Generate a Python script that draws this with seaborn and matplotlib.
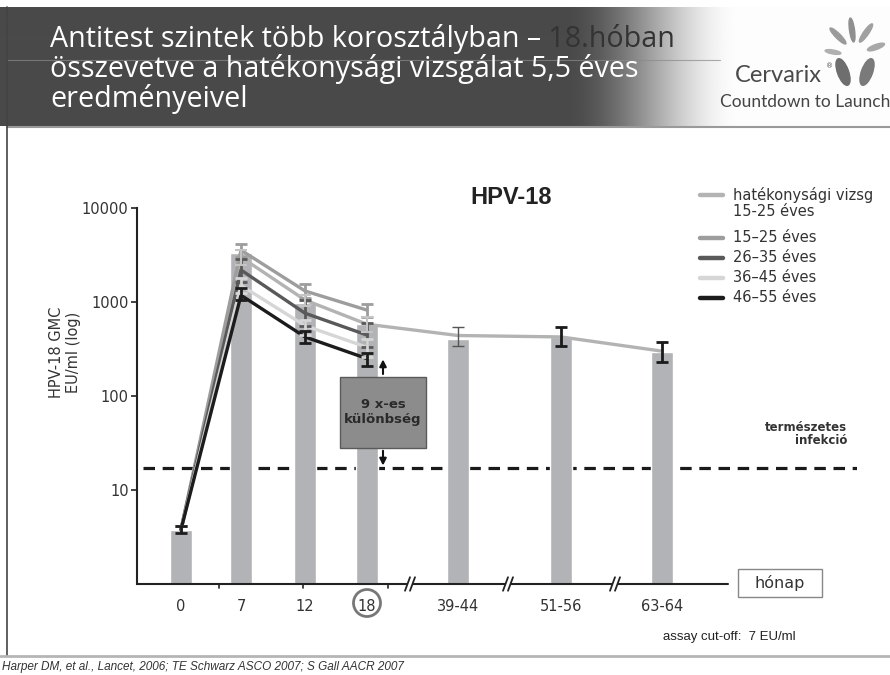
import numpy as np
import pandas as pd
import seaborn as sns
import matplotlib.pyplot as plt
from matplotlib.patches import Rectangle, Ellipse
from matplotlib.transforms import blended_transform_factory

# ---- adatok ----
honap = ["0", "7", "12", "18", "39-44", "51-56", "63-64"]
oszlop_gmc = [3.8, 3300, 980, 580, 405, 420, 295]          # hatékonysági vizsgálat oszlopai
hatek_gmc = [3.8, 3000, 1050, 580, 440, 425, 300]          # hatékonysági vizsg. vonal
hatek_also = [3.5, 2500, 900, 480, 340, 340, 230]
hatek_felso = [4.1, 3600, 1200, 700, 540, 540, 375]

kor_honap = ["0", "7", "12", "18"]
korcsoport = ["15–25 éves", "26–35 éves", "36–45 éves", "46–55 éves"]
gmc_15_25 = [3.8, 3560, 1310, 820]
gmc_26_35 = [3.8, 2190, 760, 445]
gmc_36_45 = [3.8, 1500, 560, 330]
gmc_46_55 = [3.8, 1180, 425, 250]
also_15_25 = [3.5, 3000, 1100, 700]
felso_15_25 = [4.1, 4100, 1550, 960]
also_26_35 = [3.5, 1650, 560, 330]
felso_26_35 = [4.1, 2900, 1050, 600]
also_36_45 = [3.5, 1250, 450, 260]
felso_36_45 = [4.1, 1800, 650, 400]
also_46_55 = [3.5, 1050, 370, 210]
felso_46_55 = [4.1, 1400, 490, 290]

termeszetes = 17      # természetes fertőzés szintje
y_tickek = [10, 100, 1000, 10000]

# ---- elrendezés ----
W, H = 890, 675
x_pos = dict(zip(honap, [181, 241, 305, 367, 458, 561, 662]))   # kategóriák helye a tengelyen
szinek = {"hatékonysági": "#b3b3b3", "15–25 éves": "#9d9d9d", "26–35 éves": "#595959",
          "36–45 éves": "#d6d6d6", "46–55 éves": "#1c1c1c"}
oszlop_szin = "#b2b3b6"

sns.set_theme(style="white")
plt.rcParams["font.family"] = ["DejaVu Sans"]

fig = plt.figure(figsize=(W / 100, H / 100), dpi=100)
fig.patch.set_facecolor("white")
ax = fig.add_axes([137 / W, 1 - 584 / H, (857 - 137) / W, (584 - 208) / H])
ax.set_yscale("log")

# természetes fertőzés szaggatott vonal
ax.plot([143, 857], [termeszetes, termeszetes], color="#1a1a1a", lw=2.3,
        ls=(0, (3.6, 2.4)), zorder=1)

# oszlopok
df_osz = pd.DataFrame({"x": [x_pos[h] for h in honap], "gmc": oszlop_gmc})
sns.barplot(data=df_osz, x="x", y="gmc", native_scale=True, width=23 / 61,
            color=oszlop_szin, saturation=1, errorbar=None, ax=ax, zorder=2)

# vonalak
sorok = []
for h, v in zip(honap, hatek_gmc):
    sorok.append({"x": x_pos[h], "gmc": v, "csoport": "hatékonysági"})
for nev, vals in zip(korcsoport, [gmc_15_25, gmc_26_35, gmc_36_45, gmc_46_55]):
    for h, v in zip(kor_honap, vals):
        sorok.append({"x": x_pos[h], "gmc": v, "csoport": nev})
df_vonal = pd.DataFrame(sorok)
sns.lineplot(data=df_vonal, x="x", y="gmc", hue="csoport", palette=szinek, sort=False,
             lw=2.4, legend=False, ax=ax, zorder=3)

# hibasávok
xs = np.array([x_pos[h] for h in kor_honap])
for nev, g, lo, hi in [("15–25 éves", gmc_15_25, also_15_25, felso_15_25),
                       ("26–35 éves", gmc_26_35, also_26_35, felso_26_35),
                       ("36–45 éves", gmc_36_45, also_36_45, felso_36_45),
                       ("46–55 éves", gmc_46_55, also_46_55, felso_46_55)]:
    g, lo, hi = np.array(g), np.array(lo), np.array(hi)
    ax.errorbar(xs, g, yerr=[g - lo, hi - g], fmt="none", ecolor=szinek[nev],
                elinewidth=2, capsize=4, capthick=2, zorder=4)
xh = np.array([x_pos[h] for h in honap])
g, lo, hi = np.array(hatek_gmc), np.array(hatek_also), np.array(hatek_felso)
ax.errorbar(xh[1:4], g[1:4], yerr=[(g - lo)[1:4], (hi - g)[1:4]], fmt="none",
            ecolor="#c4c4c4", elinewidth=1.5, capsize=4, capthick=1.5, zorder=4)
ax.errorbar(xh[4:5], g[4:5], yerr=[(g - lo)[4:5], (hi - g)[4:5]], fmt="none",
            ecolor="#555555", elinewidth=1, capsize=4, capthick=1, zorder=4)
ax.errorbar(xh[5:], g[5:], yerr=[(g - lo)[5:], (hi - g)[5:]], fmt="none",
            ecolor="#1a1a1a", elinewidth=2, capsize=4, capthick=2, zorder=4)

# nyilak a "9 x-es különbség" dobozhoz
ax.annotate("", xy=(383, gmc_46_55[3] * 1.05), xytext=(383, 160),
            arrowprops=dict(arrowstyle="-|>", color="#111", lw=1.5, mutation_scale=10), zorder=6)
ax.annotate("", xy=(383, termeszetes), xytext=(383, 28),
            arrowprops=dict(arrowstyle="-|>", color="#111", lw=1.5, mutation_scale=10), zorder=6)

# tengelyek
ax.set_xlim(137, 857)
ax.set_ylim(1, 10000)
ax.set_yticks(y_tickek)
ax.set_yticklabels([str(t) for t in y_tickek])
ax.yaxis.set_minor_locator(plt.NullLocator())
ax.tick_params(axis="y", length=4, width=1.2, color="#222", labelsize=10.5,
               labelcolor="#333", left=True, pad=2)
ax.set_xticks(list(x_pos.values()))
ax.set_xticklabels(honap)
ax.tick_params(axis="x", length=0, labelsize=10.5, labelcolor="#333", pad=11)
ax.set_xlabel("")
ax.set_ylabel("")
for s in ["top", "right", "bottom"]:
    ax.spines[s].set_visible(False)
ax.spines["left"].set_color("#222")
ax.spines["left"].set_linewidth(1.5)
ax.set_facecolor("none")

# x tengely törésekkel
tr = blended_transform_factory(ax.transData, ax.transAxes)
for a, b in [(137, 407), (413, 505), (511, 612), (618, 728)]:
    ax.plot([a, b], [0, 0], color="#222", lw=1.5, transform=tr, clip_on=False, zorder=5)
for c in [410, 508, 615]:
    for d in (-2.5, 2.5):
        ax.plot([c + d - 2.5, c + d + 2.5], [-0.018, 0.018], color="#222", lw=1.3,
                transform=tr, clip_on=False, zorder=5)
for t in [219, 303, 388]:
    ax.plot([t, t], [0, -0.011], color="#222", lw=1.2, transform=tr, clip_on=False)

# ---- díszítés, feliratok pixelkoordinátában ----
ov = fig.add_axes([0, 0, 1, 1], zorder=10)
ov.set_facecolor("none")
ov.axis("off")

grad_x = np.arange(W)
tt = np.clip((grad_x - 565) / 175, 0, 1)
val = 0.29 + (0.99 - 0.29) * (tt * tt * (3 - 2 * tt))
ov.imshow(np.tile(val, (2, 1)), extent=(0, W, 126, 7), aspect="auto", cmap="gray",
          vmin=0, vmax=1, zorder=0, interpolation="bilinear")
ov.plot([7, 720], [60, 60], color="#8a8a8a", lw=0.8, alpha=0.7)
ov.plot([7, W], [127, 127], color="#9a9a9a", lw=1.5)
ov.plot([7, 7], [7, 656], color="#444", lw=1.2)
ov.plot([0, W], [656, 656], color="#b5b5b5", lw=2)

cim = dict(fontsize=20.6, family="Open Sans", va="baseline")
t1 = ov.text(50, 47, "Antitest szintek több korosztályban –", color="white", **cim)
ov.annotate(" 18.hóban", xy=(1, 0), xycoords=t1, va="bottom", ha="left",
            color="#333333", fontsize=20.6, family="Open Sans")
ov.text(50, 77, "összevetve a hatékonysági vizsgálat 5,5 éves", color="white", **cim)
ov.text(50, 107, "eredményeivel", color="white", **cim)

# Cervarix logó
ov.text(735, 76, "Cervarix", fontsize=17, family="Lato", color="#4a4a4a", va="center")
ov.text(826, 66, "®", fontsize=5, color="#4a4a4a", va="center")
ov.text(805, 102, "Countdown to Launch", fontsize=12.5, family="Lato", color="#444",
        va="center", ha="center")
for cx, cy, w, h, ang, col in [(843, 72, 11, 28, -20, "#6e6e6e"), (867, 72, 11, 28, 20, "#7a7a7a"),
                               (838, 36, 5, 22, -45, "#9a9a9a"), (852, 30, 5, 24, -8, "#8f8f8f"),
                               (866, 33, 5, 22, 35, "#a0a0a0"), (876, 47, 5, 18, 70, "#a8a8a8"),
                               (833, 52, 4, 16, -80, "#b0b0b0")]:
    ov.add_patch(Ellipse((cx, cy), w, h, angle=ang, color=col, zorder=2))

# HPV-18 cím
ov.text(511, 197, "HPV-18", fontsize=17, fontweight="bold", family="Liberation Sans",
        color="#222", ha="center", va="center")

# y felirat
ov.text(65, 352, "HPV-18 GMC\nEU/ml (log)", rotation=90, fontsize=10.5, color="#333",
        ha="center", va="center", multialignment="center", linespacing=1.1)

# jelmagyarázat
ov.plot([700, 723], [195, 195], color=szinek["hatékonysági"], lw=3.2)
ov.text(733, 187, "hatékonysági vizsg\n15-25 éves", fontsize=10.5, color="#333",
        va="top", linespacing=1.05)
for i, nev in enumerate(korcsoport):
    yy = 238 + 20 * i
    ov.plot([700, 723], [yy, yy], color=szinek[nev], lw=3.2)
    ov.text(733, yy, nev, fontsize=10.5, color="#333", va="center")

# természetes fertőzés
ov.text(847, 434, "természetes\ninfekció", fontsize=8.5, fontweight="bold", color="#333",
        ha="right", va="center", multialignment="right", linespacing=1.05)

# 9x doboz
ov.add_patch(Rectangle((340, 377), 86, 71, facecolor="#8c8c8c", edgecolor="#5a5a5a", lw=1))
ov.text(383, 412, "9 x-es\nkülönbség", fontsize=9.5, fontweight="bold", color="#2a2a2a",
        ha="center", va="center", linespacing=1.15)

# 18 bekarikázva
ov.add_patch(Ellipse((367, 603), 27, 27, facecolor="none", edgecolor="#777", lw=2))

# hónap doboz
ov.add_patch(Rectangle((738, 569), 84, 28, facecolor="white", edgecolor="#888", lw=1))
ov.text(780, 583, "hónap", fontsize=11.5, color="#333", ha="center", va="center")

ov.text(663, 637, "assay cut-off:  7 EU/ml", fontsize=9.5, family="Liberation Sans",
        color="#222", va="center")
ov.text(2, 661, "Harper DM, et al., Lancet, 2006; TE Schwarz ASCO 2007; S Gall AACR 2007",
        fontsize=8.5, family="Liberation Sans", style="italic", color="#333", va="top")

ov.set_xlim(0, W)
ov.set_ylim(H, 0)

plt.savefig("out.png", dpi=100)
